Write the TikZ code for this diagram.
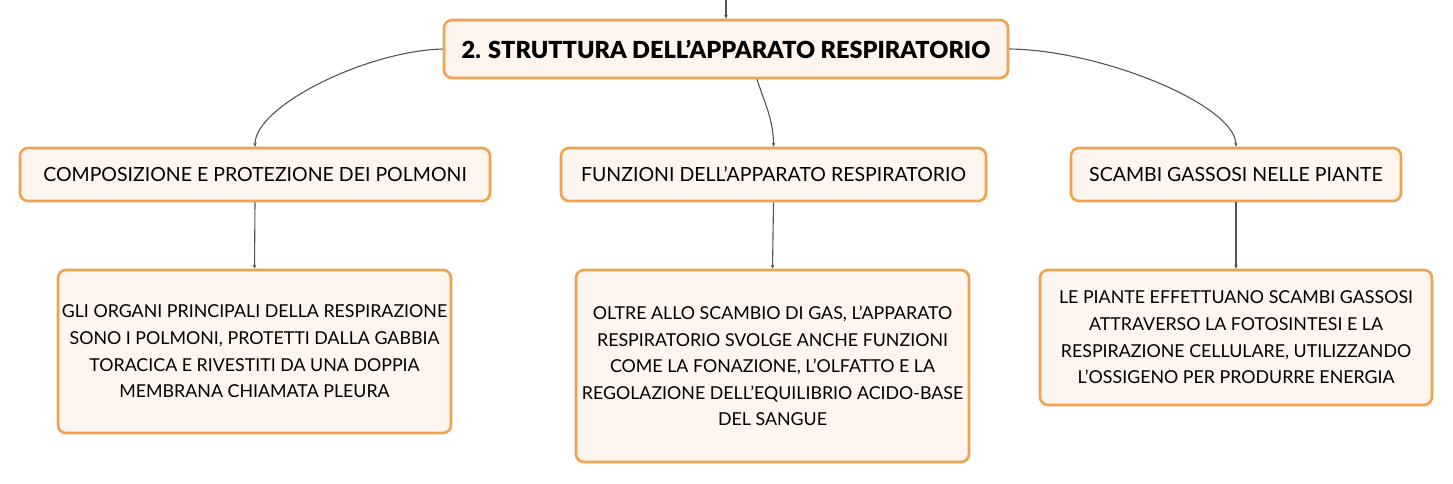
\documentclass[tikz,border=0pt]{standalone}
\usepackage{fontspec}
\setmainfont{Lato}[BoldFont={Lato Black}]
\usetikzlibrary{arrows.meta}
\definecolor{boxfill}{HTML}{FDF5EE}
\definecolor{boxdraw}{HTML}{F2A24E}
\definecolor{linkcol}{HTML}{555555}
\tikzset{
  box/.style={draw=boxdraw, fill=boxfill, line width=2.6pt, rounded corners=8pt,
    inner sep=0pt, align=center, text=black},
  titlebox/.style={box, font=\fontsize{23.5}{28}\selectfont\bfseries},
  topicbox/.style={box, font=\fontsize{19.5}{23}\selectfont},
  textbox/.style={box, font=\fontsize{17.8}{26.6}\selectfont},
  link/.style={draw=linkcol, line width=1.1pt, -{Stealth[length=4pt,width=3.5pt]}},
}
\begin{document}
\begin{tikzpicture}[x=1pt,y=-1pt]
\useasboundingbox (0,0) rectangle (1453,483);
\node[titlebox, minimum width=564pt, minimum height=58pt] (main) at (726,49) {2. STRUTTURA DELL'APPARATO RESPIRATORIO};
\coordinate (top) at (726,0);
\node[topicbox, minimum width=470pt, minimum height=53pt] (l1) at (255,174.5) {COMPOSIZIONE E PROTEZIONE DEI POLMONI};
\node[topicbox, minimum width=425pt, minimum height=53pt] (m1) at (773.5,174.5) {FUNZIONI DELL'APPARATO RESPIRATORIO};
\node[topicbox, minimum width=330pt, minimum height=53pt] (r1) at (1236,174.5) {SCAMBI GASSOSI NELLE PIANTE};
\node[textbox, minimum width=393pt, minimum height=163pt] (l2) at (254.5,351.5) {GLI ORGANI PRINCIPALI DELLA RESPIRAZIONE\\SONO I POLMONI, PROTETTI DALLA GABBIA\\TORACICA E RIVESTITI DA UNA DOPPIA\\MEMBRANA CHIAMATA PLEURA};
\node[textbox, minimum width=393pt, minimum height=192pt] (m2) at (772.5,366) {OLTRE ALLO SCAMBIO DI GAS, L'APPARATO\\RESPIRATORIO SVOLGE ANCHE FUNZIONI\\COME LA FONAZIONE, L'OLFATTO E LA\\REGOLAZIONE DELL'EQUILIBRIO ACIDO-BASE\\DEL SANGUE};
\node[textbox, minimum width=392pt, minimum height=135pt] (r2) at (1236,337.5) {LE PIANTE EFFETTUANO SCAMBI GASSOSI\\ATTRAVERSO LA FOTOSINTESI E LA\\RESPIRAZIONE CELLULARE, UTILIZZANDO\\L'OSSIGENO PER PRODURRE ENERGIA};
\draw[link] (top) -- (main.north);
\draw[link] (main.west) .. controls +(-76,2) and +(0,-41) .. (l1.north);
\draw[link] ([xshift=31pt]main.south) .. controls +(7,22) and +(0,-27) .. (m1.north);
\draw[link] (main.east) .. controls +(92,1) and +(-1,-42) .. (r1.north);
\draw[link] (l1.south) -- (l2.north);
\draw[link] (m1.south) -- (m2.north);
\draw[link] (r1.south) -- (r2.north);
\end{tikzpicture}
\end{document}
